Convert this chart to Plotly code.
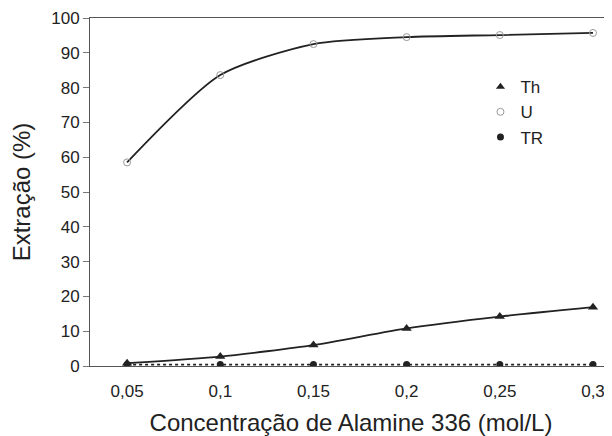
import plotly.graph_objects as go

conc = [0.05, 0.10, 0.15, 0.20, 0.25, 0.30]
tick_labels = ["0,05", "0,1", "0,15", "0,2", "0,25", "0,3"]
th = [0.8, 2.7, 6.0, 10.8, 14.2, 16.9]
u = [58.5, 83.6, 92.5, 94.5, 95.1, 95.7]
tr = [0.4, 0.4, 0.4, 0.4, 0.4, 0.4]

ink = "#222222"
fig = go.Figure()
fig.add_trace(go.Scatter(x=conc, y=th, name="Th", mode="lines+markers", showlegend=False,
                         line=dict(color=ink, width=1.8, shape="spline", smoothing=0.6),
                         marker=dict(symbol="triangle-up", size=9, color=ink)))
fig.add_trace(go.Scatter(x=conc, y=u, name="U", mode="lines+markers", showlegend=False,
                         line=dict(color=ink, width=1.8, shape="spline", smoothing=0.7),
                         marker=dict(symbol="circle-open", size=7, color="#999999")))
fig.add_trace(go.Scatter(x=conc, y=tr, name="TR", mode="lines+markers", showlegend=False,
                         line=dict(color=ink, width=1.6, dash="dot"),
                         marker=dict(symbol="circle", size=7, color=ink)))
# legend entries (markers only, as in the reference)
fig.add_trace(go.Scatter(x=[None], y=[None], name="Th", mode="markers",
                         marker=dict(symbol="triangle-up", size=8, color=ink)))
fig.add_trace(go.Scatter(x=[None], y=[None], name="U", mode="markers",
                         marker=dict(symbol="circle-open", size=7, color="#999999")))
fig.add_trace(go.Scatter(x=[None], y=[None], name="TR", mode="markers",
                         marker=dict(symbol="circle", size=7, color=ink)))

fig.update_layout(
    width=604, height=428,
    margin=dict(l=82, r=0, t=10, b=70),
    paper_bgcolor="white", plot_bgcolor="white",
    font=dict(family="Liberation Sans, Arial, sans-serif", size=17, color=ink),
    showlegend=True,
    legend=dict(x=0.748, y=0.853, xanchor="left", yanchor="top",
                bgcolor="rgba(0,0,0,0)", font=dict(size=17),
                itemwidth=30, tracegroupgap=0),
    xaxis=dict(range=[0.0301, 0.3102], tickvals=conc, ticktext=tick_labels,
               showgrid=False, zeroline=False, showline=True, mirror=True,
               linecolor="#555555", linewidth=1, ticks="outside", ticklen=10,
               tickcolor="rgba(0,0,0,0)", ticklabeloverflow="allow",
               automargin=False,
               title=dict(text="Concentração de Alamine 336 (mol/L)", font=dict(size=24), standoff=20)),
    yaxis=dict(range=[0, 100], tickvals=[0, 10, 20, 30, 40, 50, 60, 70, 80, 90, 100],
               showgrid=False, zeroline=False, showline=True, automargin=False,
               linecolor="#555555", linewidth=1, ticks="outside", ticklen=6,
               tickcolor="#777777",
               title=dict(text="Extração (%)", font=dict(size=24), standoff=14)),
)

fig.write_html("out.html")
